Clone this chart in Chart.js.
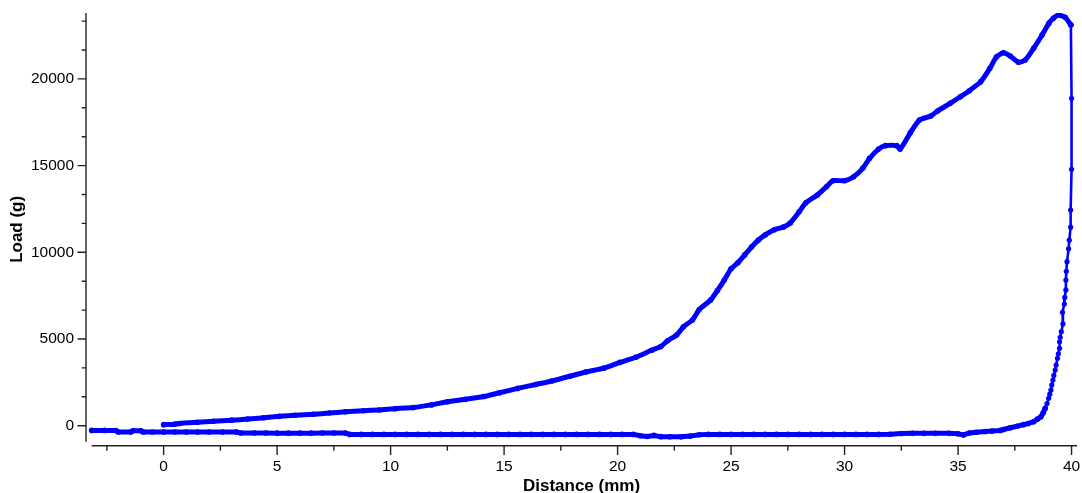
<!DOCTYPE html>
<html>
<head>
<meta charset="utf-8">
<script src="https://cdn.jsdelivr.net/npm/chart.js@4.4.1/dist/chart.umd.min.js"></script>
<style>
  html, body { margin: 0; padding: 0; background: #fff; }
  #wrap { width: 1082px; height: 493px; position: relative; }
</style>
</head>
<body>
<div id="wrap"><canvas id="c"></canvas></div>
<script>
// ---- Data ----
// Loading pass: distance (mm) and load (g)
const loadX = [0.0, 0.5, 0.7, 1.5, 2.2, 3.0, 3.7, 4.4, 5.1, 5.8, 6.6, 7.3, 8.0, 8.8, 9.5, 10.2, 11.0, 11.8, 12.5, 13.3, 14.1, 14.8, 15.6, 16.4, 17.1, 17.9, 18.6, 19.4, 20.1, 20.8, 21.5, 21.9, 22.2, 22.6, 22.9, 23.3, 23.6, 24.1, 24.4, 24.7, 25.0, 25.3, 25.6, 25.9, 26.2, 26.5, 26.9, 27.3, 27.6, 28.0, 28.3, 28.8, 29.2, 29.5, 30.0, 30.4, 30.8, 31.1, 31.5, 31.8, 32.3, 32.45, 32.9, 33.3, 33.8, 34.1, 34.65, 35.1, 35.5, 36.0, 36.4, 36.7, 37.0, 37.3, 37.66, 37.96, 38.33, 38.7, 39.0, 39.2, 39.43, 39.72, 39.97];
const loadY = [60, 90, 130, 200, 260, 320, 380, 460, 540, 600, 660, 730, 800, 860, 910, 980, 1050, 1200, 1380, 1520, 1680, 1900, 2150, 2380, 2580, 2850, 3100, 3320, 3650, 3950, 4350, 4560, 4900, 5230, 5700, 6100, 6700, 7250, 7800, 8400, 9050, 9400, 9850, 10300, 10700, 11000, 11300, 11450, 11680, 12340, 12860, 13300, 13780, 14130, 14130, 14360, 14840, 15420, 15950, 16150, 16150, 15950, 16900, 17630, 17860, 18150, 18590, 18970, 19320, 19840, 20610, 21280, 21510, 21320, 20960, 21090, 21765, 22530, 23200, 23500, 23685, 23550, 23110];

// Unloading drop near 40 mm
const dropX = [39.97, 40.0, 40.0, 39.96, 39.96, 39.9, 39.87, 39.8, 39.77, 39.75, 39.75, 39.7, 39.68, 39.6, 39.62, 39.55, 39.5, 39.47, 39.47, 39.42, 39.38, 39.32, 39.28, 39.22, 39.18, 39.13, 39.09, 39.04, 38.99, 38.92, 38.84];
const dropY = [23110, 18880, 14790, 12440, 11450, 10700, 10200, 9460, 8900, 8400, 7830, 7400, 7020, 6540, 5870, 5420, 5100, 4840, 4460, 4150, 3890, 3500, 3210, 2900, 2630, 2350, 2060, 1820, 1580, 1280, 1000];

// Return pass along the bottom
const backX = [38.84, 38.75, 38.65, 38.5, 38.33, 38.1, 37.88, 37.6, 37.3, 37.0, 36.86, 36.5, 36.2, 35.8, 35.5, 35.24, 35.0, 34.6, 34.0, 33.5, 33.0, 32.5, 32.0, 31.5, 31.0, 30.5, 30.0, 29.5, 29.0, 28.5, 28.0, 27.5, 27.0, 26.5, 26.0, 25.5, 25.0, 24.5, 24.0, 23.6, 23.2, 22.8, 22.3, 21.9, 21.6, 21.3, 21.0, 20.7, 20.2, 19.7, 19.2, 18.7, 18.2, 17.7, 17.2, 16.7, 16.2, 15.7, 15.2, 14.7, 14.2, 13.7, 13.2, 12.7, 12.2, 11.7, 11.2, 10.7, 10.2, 9.7, 9.2, 8.7, 8.2, 8.0, 7.5, 7.0, 6.5, 6.0, 5.5, 5.0, 4.5, 4.0, 3.4, 3.2, 2.6, 2.0, 1.5, 1.0, 0.5, 0.0, -0.5, -0.9, -1.0, -1.35, -1.45, -2.0, -2.1, -2.6, -3.17];
const backY = [1000, 740, 520, 380, 230, 130, 60, -30, -120, -220, -270, -310, -340, -380, -420, -530, -470, -440, -440, -440, -440, -450, -490, -500, -500, -500, -500, -500, -500, -500, -500, -500, -500, -500, -500, -500, -500, -500, -500, -520, -600, -640, -640, -630, -560, -620, -580, -500, -500, -500, -500, -500, -500, -500, -500, -500, -500, -500, -500, -500, -500, -500, -500, -500, -500, -500, -500, -500, -500, -500, -500, -500, -500, -420, -420, -420, -430, -430, -430, -430, -420, -420, -420, -360, -360, -360, -360, -360, -360, -360, -360, -360, -290, -290, -360, -360, -280, -270, -270];

// Axis ranges and ticks
const X_MIN = -3.42, X_MAX = 40.24;
const Y_MIN = -1153, Y_MAX = 23800;
const xTicks = [0, 5, 10, 15, 20, 25, 30, 35, 40];
const yTicks = [0, 5000, 10000, 15000, 20000];
const X_MINOR = 2.5;
const Y_MINOR = 5000 / 3;
const X_AXIS_START = -3.17;   // x-axis line begins here
const Y_AXIS_END = -920;      // y-axis line ends here
const xTitle = 'Distance (mm)';
const yTitle = 'Load (g)';

const BLUE = '#0000ff';
const AXIS = '#222222';
const FONT = '"Liberation Sans", Arial, sans-serif';
const toPts = (X, Y) => X.map((x, i) => ({ x: x, y: Y[i] }));

const axesPlugin = {
  id: 'mapleAxes',
  beforeDatasetsDraw(chart) {
    const { ctx, chartArea, scales } = chart;
    const xs = scales.x, ys = scales.y;
    const ax = chartArea.left, ay = chartArea.bottom;
    const yEnd = ys.getPixelForValue(Y_AXIS_END);
    ctx.save();
    ctx.strokeStyle = AXIS;
    ctx.lineWidth = 1.4;
    ctx.beginPath();
    ctx.moveTo(ax, chartArea.top);
    ctx.lineTo(ax, yEnd);
    for (let k = Math.ceil(Y_MIN / Y_MINOR); k * Y_MINOR <= Y_MAX; k++) {
      const py = ys.getPixelForValue(k * Y_MINOR);
      if (py > yEnd || py < chartArea.top) continue;
      const len = (k % 3 === 0) ? 8.5 : 4.3;
      ctx.moveTo(ax - len, py);
      ctx.lineTo(ax, py);
    }
    ctx.moveTo(xs.getPixelForValue(X_AXIS_START), ay);
    ctx.lineTo(chartArea.right, ay);
    for (let k = Math.ceil(X_MIN / X_MINOR); k * X_MINOR <= X_MAX; k++) {
      const px = xs.getPixelForValue(k * X_MINOR);
      const len = (k % 2 === 0) ? 9.3 : 5;
      ctx.moveTo(px, ay);
      ctx.lineTo(px, ay + len);
    }
    ctx.stroke();
    ctx.restore();
  }
};

const common = {
  borderColor: BLUE,
  backgroundColor: BLUE,
  pointBackgroundColor: BLUE,
  pointBorderWidth: 0,
  pointHoverRadius: 0,
  borderJoinStyle: 'round',
  borderCapStyle: 'round',
  tension: 0,
  fill: false
};

new Chart(document.getElementById('c'), {
  type: 'line',
  data: {
    datasets: [
      Object.assign({}, common, { label: 'load', data: toPts(loadX, loadY), borderWidth: 5, pointRadius: 2.8, tension: 0.2 }),
      Object.assign({}, common, { label: 'drop', data: toPts(dropX, dropY), borderWidth: 2.6, pointRadius: 2.6 }),
      Object.assign({}, common, { label: 'back', data: toPts(backX, backY), borderWidth: 5, pointRadius: 2.8 })
    ]
  },
  options: {
    responsive: true,
    maintainAspectRatio: false,
    animation: false,
    events: [],
    layout: { padding: { top: 13, right: 5, left: 0, bottom: 0 } },
    plugins: { legend: { display: false }, tooltip: { enabled: false } },
    scales: {
      x: {
        type: 'linear',
        min: X_MIN, max: X_MAX,
        border: { display: false },
        grid: { display: false, drawTicks: false },
        afterFit: s => { s.height = 47.3; s.paddingLeft = 0; s.paddingRight = 0; },
        afterBuildTicks: s => { s.ticks = xTicks.map(v => ({ value: v })); },
        ticks: {
          maxRotation: 0,
          autoSkip: false,
          padding: 12,
          color: '#000',
          callback: v => String(v),
          font: { family: FONT, size: 15.5 }
        },
        title: {
          display: true, text: xTitle, color: '#000',
          padding: { top: 0, bottom: 0 },
          font: { family: FONT, size: 17, weight: 'bold', lineHeight: 0.8 }
        }
      },
      y: {
        type: 'linear',
        min: Y_MIN, max: Y_MAX,
        border: { display: false },
        grid: { display: false, drawTicks: false },
        afterFit: s => { s.width = 86; s.paddingTop = 0; s.paddingBottom = 0; },
        afterBuildTicks: s => { s.ticks = yTicks.map(v => ({ value: v })); },
        ticks: {
          autoSkip: false,
          padding: 12,
          color: '#000',
          callback: v => String(v),
          font: { family: FONT, size: 15.5 }
        },
        title: {
          display: true, text: yTitle, color: '#000',
          padding: { top: 7, bottom: 0 },
          font: { family: FONT, size: 17, weight: 'bold', lineHeight: 1.2 }
        }
      }
    }
  },
  plugins: [axesPlugin]
});
</script>
</body>
</html>
